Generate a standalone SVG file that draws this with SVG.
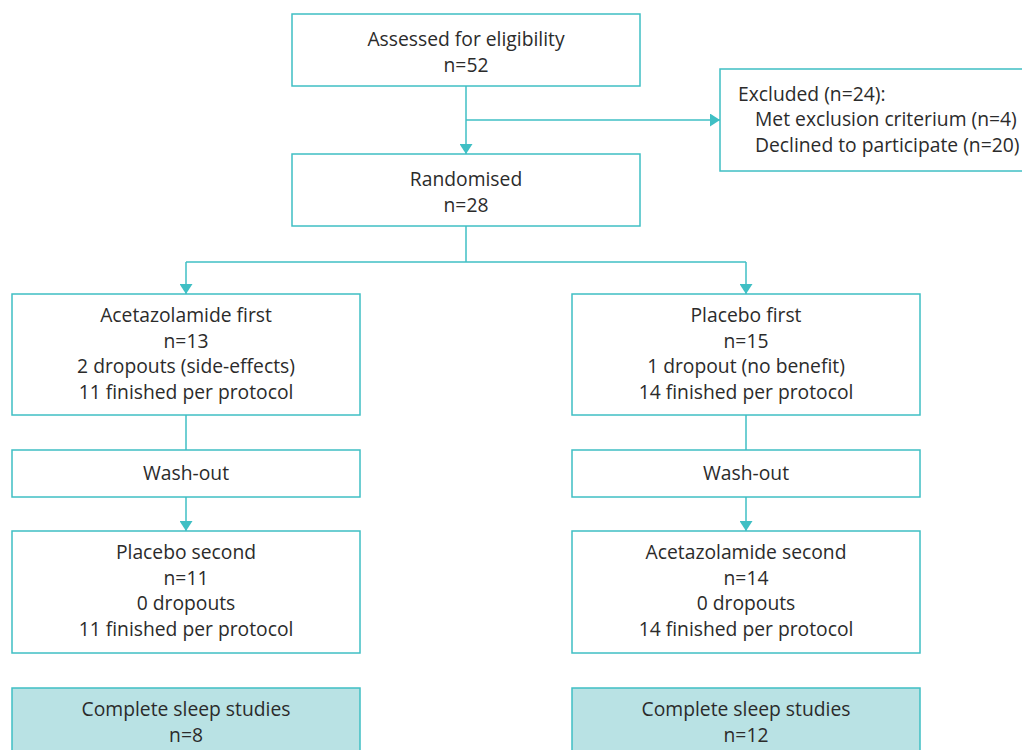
<svg xmlns="http://www.w3.org/2000/svg" width="1022" height="750" viewBox="0 0 1022 750">
<style>
.box{fill:#fff;stroke:#3fbfc4;stroke-width:1.5}
.fin{fill:#b9e2e4;stroke:#3fbfc4;stroke-width:1.5}
.t{font-family:"Open Sans","Noto Sans",sans-serif;font-size:19.3px;fill:#2b2b2b;text-anchor:middle}
.tl{font-family:"Open Sans","Noto Sans",sans-serif;font-size:19.3px;fill:#2b2b2b}
.c{fill:none;stroke:#3fbfc4;stroke-width:1.5}
</style>
<defs>
<marker id="ah" viewBox="0 0 10 13" refX="10" refY="6.5" markerWidth="10" markerHeight="13" markerUnits="userSpaceOnUse" orient="auto">
<path d="M0,0L10,6.5L0,13z" fill="#3fbfc4"/>
</marker>
</defs>
<rect width="1022" height="750" fill="#fff"/>
<g id="connectors">
<path class="c" d="M466,86V154" marker-end="url(#ah)"/>
<path class="c" d="M466,120H720" marker-end="url(#ah)"/>
<path class="c" d="M466,226V262"/>
<path class="c" d="M186,262H746"/>
<path class="c" d="M186,262V294" marker-end="url(#ah)"/>
<path class="c" d="M746,262V294" marker-end="url(#ah)"/>
<path class="c" d="M186,415V450"/>
<path class="c" d="M746,415V450"/>
<path class="c" d="M186,497V531" marker-end="url(#ah)"/>
<path class="c" d="M746,497V531" marker-end="url(#ah)"/>
</g>
<g id="assessed">
<rect class="box" x="292" y="14" width="348" height="72"/>
<text class="t" x="466" y="46">Assessed for eligibility</text>
<text class="t" x="466" y="72">n=52</text>
</g>
<g id="excluded">
<rect class="box" x="720" y="69" width="310" height="102"/>
<text class="tl" x="738" y="101">Excluded (n=24):</text>
<text class="tl" x="755" y="126">Met exclusion criterium (n=4)</text>
<text class="tl" x="755" y="152">Declined to participate (n=20)</text>
</g>
<g id="randomised">
<rect class="box" x="292" y="154" width="348" height="72"/>
<text class="t" x="466" y="186">Randomised</text>
<text class="t" x="466" y="212">n=28</text>
</g>
<g id="acet-first">
<rect class="box" x="12" y="294" width="348" height="121"/>
<text class="t" x="186" y="322">Acetazolamide first</text>
<text class="t" x="186" y="348">n=13</text>
<text class="t" x="186" y="373">2 dropouts (side-effects)</text>
<text class="t" x="186" y="399">11 finished per protocol</text>
</g>
<g id="placebo-first">
<rect class="box" x="572" y="294" width="348" height="121"/>
<text class="t" x="746" y="322">Placebo first</text>
<text class="t" x="746" y="348">n=15</text>
<text class="t" x="746" y="373">1 dropout (no benefit)</text>
<text class="t" x="746" y="399">14 finished per protocol</text>
</g>
<g id="washout-left">
<rect class="box" x="12" y="450" width="348" height="47"/>
<text class="t" x="186" y="480">Wash-out</text>
</g>
<g id="washout-right">
<rect class="box" x="572" y="450" width="348" height="47"/>
<text class="t" x="746" y="480">Wash-out</text>
</g>
<g id="placebo-second">
<rect class="box" x="12" y="531" width="348" height="122"/>
<text class="t" x="186" y="559">Placebo second</text>
<text class="t" x="186" y="585">n=11</text>
<text class="t" x="186" y="610">0 dropouts</text>
<text class="t" x="186" y="636">11 finished per protocol</text>
</g>
<g id="acet-second">
<rect class="box" x="572" y="531" width="348" height="122"/>
<text class="t" x="746" y="559">Acetazolamide second</text>
<text class="t" x="746" y="585">n=14</text>
<text class="t" x="746" y="610">0 dropouts</text>
<text class="t" x="746" y="636">14 finished per protocol</text>
</g>
<g id="complete-left">
<rect class="fin" x="12" y="688" width="348" height="80"/>
<text class="t" x="186" y="716">Complete sleep studies</text>
<text class="t" x="186" y="742">n=8</text>
</g>
<g id="complete-right">
<rect class="fin" x="572" y="688" width="348" height="80"/>
<text class="t" x="746" y="716">Complete sleep studies</text>
<text class="t" x="746" y="742">n=12</text>
</g>
</svg>
